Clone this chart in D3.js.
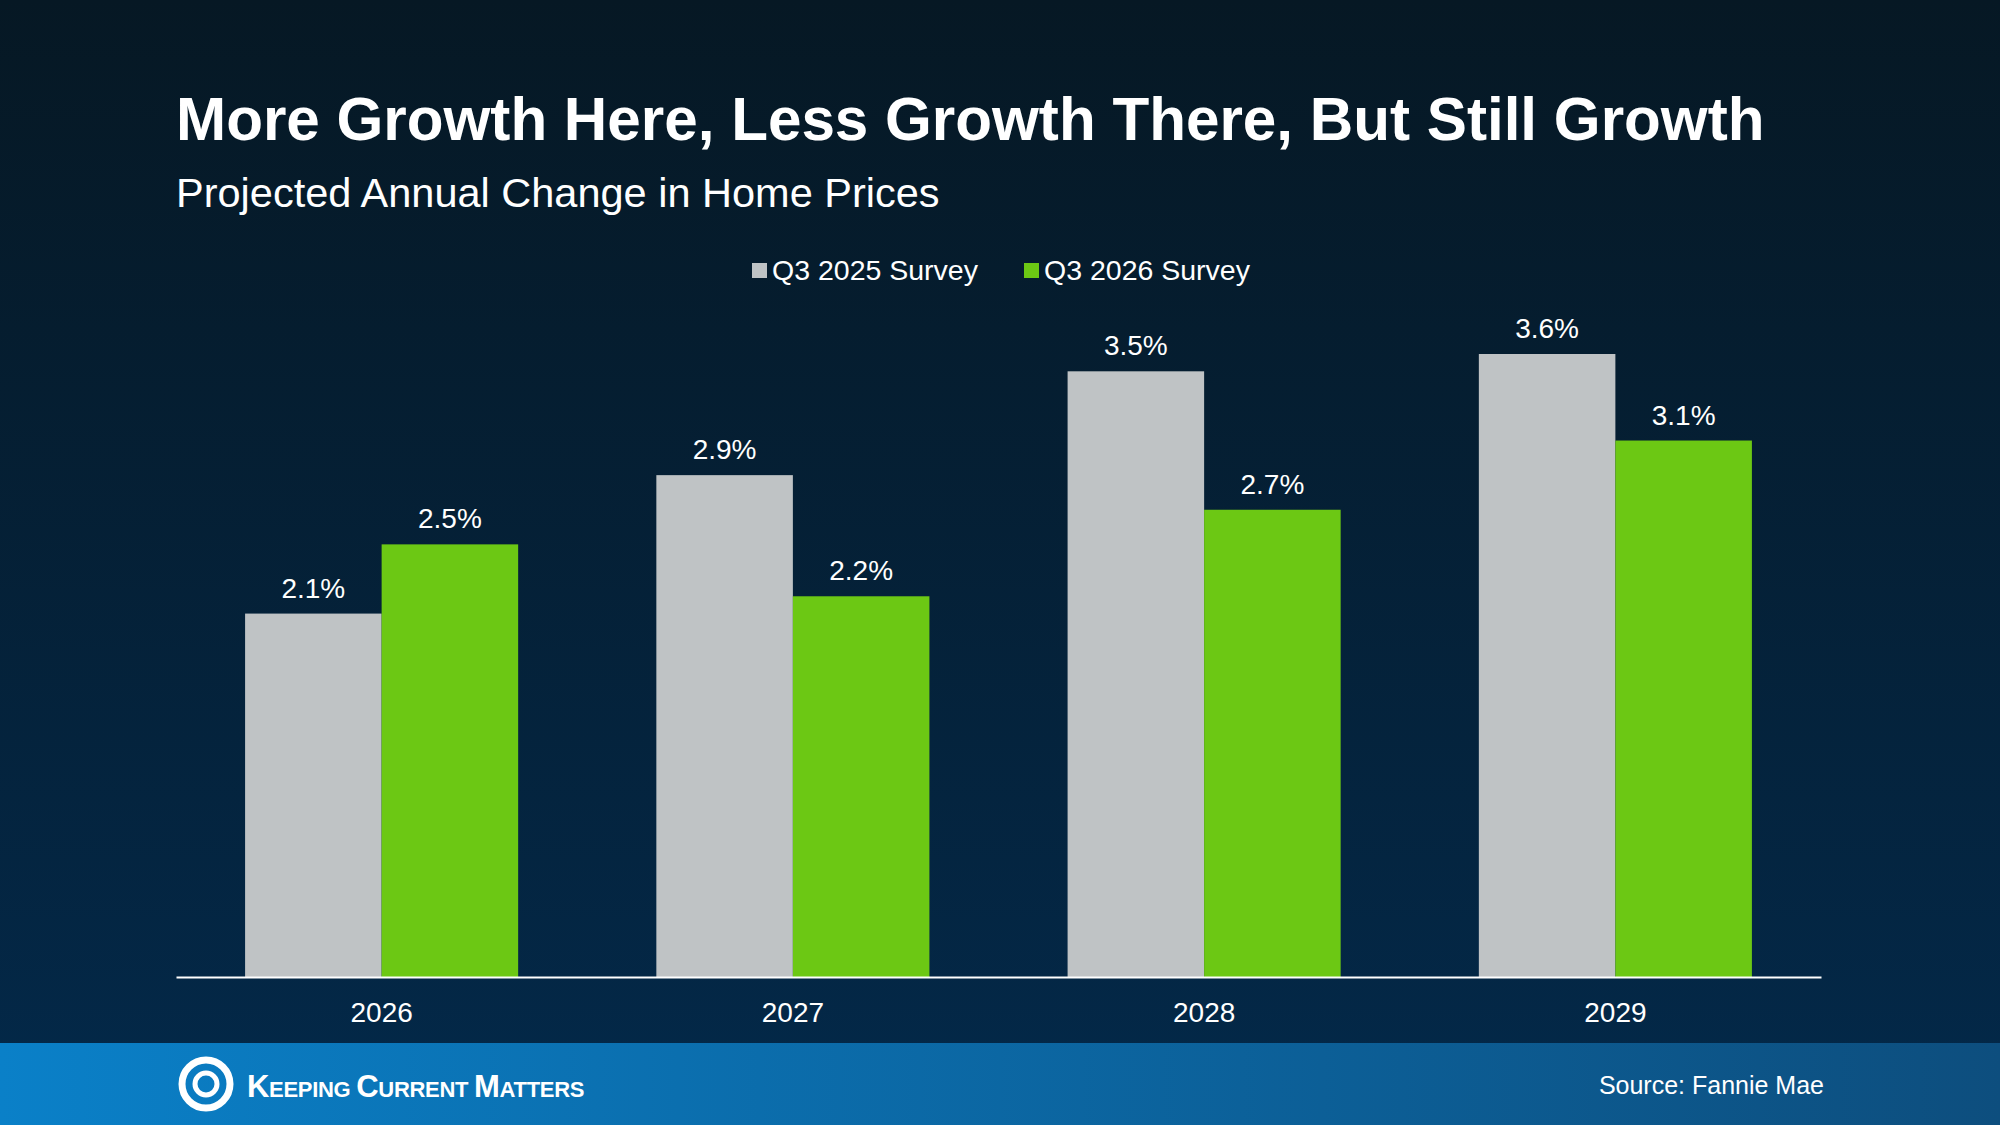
<!DOCTYPE html><html><head><meta charset="utf-8">
<script src="https://cdn.jsdelivr.net/npm/d3@7"></script>
<style>body{margin:0;background:#000}svg{display:block}</style></head><body>
<script>
const categories=["2026","2027","2028","2029"];
const seriesNames=["Q3 2025 Survey","Q3 2026 Survey"];
const q3_2025=[2.1,2.9,3.5,3.6];
const q3_2026=[2.5,2.2,2.7,3.1];
const colors=["#bfc3c5","#6cc814"];
const W=2000,H=1125,F="Liberation Sans, Arial, sans-serif";
const svg=d3.select("body").append("svg").attr("width",W).attr("height",H);
const defs=svg.append("defs");
const bg=defs.append("linearGradient").attr("id","bg").attr("x1",0).attr("y1",0).attr("x2",0).attr("y2",1);
bg.append("stop").attr("offset",0).attr("stop-color","#061824");
bg.append("stop").attr("offset",1).attr("stop-color","#03294a");
const ft=defs.append("linearGradient").attr("id","ft").attr("x1",0).attr("y1",0).attr("x2",1).attr("y2",0);
ft.append("stop").attr("offset",0).attr("stop-color","#0a80c8");
ft.append("stop").attr("offset",1).attr("stop-color","#0d4e7e");
svg.append("rect").attr("width",W).attr("height",H).attr("fill","url(#bg)");
svg.append("text").attr("x",176).attr("y",140).attr("fill","#fff").attr("font-family",F).attr("font-weight","bold").attr("font-size",60.2).text("More Growth Here, Less Growth There, But Still Growth");
svg.append("text").attr("x",176).attr("y",207).attr("fill","#fff").attr("font-family",F).attr("font-size",41.5).text("Projected Annual Change in Home Prices");
const legX=[752,1024];
seriesNames.forEach((n,i)=>{
 svg.append("rect").attr("x",legX[i]).attr("y",263).attr("width",15).attr("height",15).attr("fill",colors[i]);
 svg.append("text").attr("x",legX[i]+20).attr("y",280).attr("fill","#fff").attr("font-family",F).attr("font-size",28.5).text(n);
});
const base=977;
const x=d3.scaleBand().domain(categories).range([176,1821]).paddingInner(0.336).paddingOuter(0.168);
const xs=d3.scaleBand().domain([0,1]).range([0,x.bandwidth()]);
const y=d3.scaleLinear().domain([0,3.6]).range([base,base-623]);
const data=[q3_2025,q3_2026];
data.forEach((vals,s)=>{
 const g=svg.append("g");
 g.selectAll("rect").data(vals).join("rect").attr("x",(d,i)=>x(categories[i])+xs(s)).attr("y",d=>y(d)).attr("width",xs.bandwidth()).attr("height",d=>base-y(d)).attr("fill",colors[s]);
 g.selectAll("text").data(vals).join("text").attr("x",(d,i)=>x(categories[i])+xs(s)+xs.bandwidth()/2).attr("y",d=>y(d)-16).attr("text-anchor","middle").attr("fill","#fff").attr("font-family",F).attr("font-size",28).text(d=>d.toFixed(1)+"%");
});
const ax=svg.append("g").attr("transform",`translate(0,${base})`).call(d3.axisBottom(x).tickSize(0).tickPadding(20));
ax.select(".domain").attr("stroke","#fff").attr("stroke-width",2);
ax.selectAll("text").attr("fill","#fff").attr("font-family",F).attr("font-size",28).attr("dy","0.9em");
svg.append("rect").attr("y",1043).attr("width",W).attr("height",82).attr("fill","url(#ft)");
const lg=svg.append("g").attr("transform","translate(206,1084)");
lg.append("circle").attr("r",24).attr("fill","none").attr("stroke","#fff").attr("stroke-width",7);
lg.append("circle").attr("r",11).attr("fill","none").attr("stroke","#fff").attr("stroke-width",5);
const t=svg.append("text").attr("x",247).attr("y",1097).attr("fill","#fff").attr("font-family","Liberation Sans Narrow, Liberation Sans, sans-serif").attr("font-weight","bold").attr("font-size",22).attr("letter-spacing",-0.3);
["K","EEPING ","C","URRENT ","M","ATTERS"].forEach((s,i)=>t.append("tspan").attr("font-size",i%2?22:31).text(s));
svg.append("text").attr("x",1824).attr("y",1094).attr("text-anchor","end").attr("fill","#fff").attr("font-family",F).attr("font-size",25).text("Source: Fannie Mae");
</script></body></html>
